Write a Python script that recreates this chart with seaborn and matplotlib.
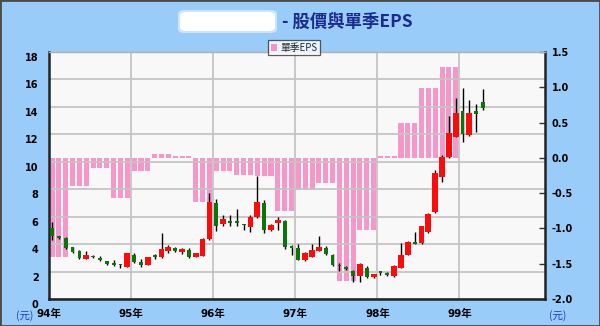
import numpy as np
import pandas as pd
import matplotlib
matplotlib.use("Agg")
import matplotlib.pyplot as plt
import seaborn as sns
from matplotlib.patches import Rectangle, FancyBboxPatch, Patch
from matplotlib.transforms import ScaledTranslation

# ---------------- data ----------------
year_labels = ["94年", "95年", "96年", "97年", "98年", "99年"]
title_text = "- 股價與單季EPS"
legend_label = "單季EPS"

# quarterly EPS, 94Q1 .. 98Q4 (each quarter drawn as three monthly bars)
quarter_eps = [-1.40, -0.40, -0.15, -0.57,
               -0.18, 0.05, 0.03, -0.62,
               -0.19, -0.24, -0.26, -0.75,
               -0.46, -0.35, -1.75, -1.02,
               0.02, 0.49, 0.99, 1.29]

# monthly candles, 94/01 .. 99/04
opens = [5.20, 4.55, 4.47, 3.77, 3.50, 2.94, 3.12, 3.01, 2.77, 2.60, 2.55, 2.35,
         3.21, 2.72, 2.48, 3.21, 3.04, 3.52, 3.74, 3.45, 3.57, 3.08, 3.13, 4.35,
         7.02, 5.47, 5.62, 5.60, 5.42, 5.27, 5.95, 6.97, 5.03, 5.56, 5.71, 3.76,
         3.70, 2.84, 3.08, 3.50, 3.74, 3.21, 2.42, 2.26, 2.06, 1.68, 2.24, 1.58,
         1.94, 1.92, 1.68, 2.28, 3.21, 4.08, 4.06, 4.90, 6.36, 8.92, 10.37, 11.83,
         13.72, 11.95, 13.72, 14.38]
highs = [5.63, 4.61, 4.50, 3.81, 3.57, 3.50, 3.20, 3.10, 2.80, 2.82, 2.55, 3.35,
         3.33, 2.89, 3.06, 3.26, 4.79, 3.94, 3.80, 3.75, 3.69, 3.36, 4.42, 7.70,
         7.27, 6.12, 6.12, 6.54, 5.50, 6.12, 8.97, 7.20, 5.45, 5.95, 5.76, 3.94,
         4.00, 3.40, 4.00, 4.59, 3.85, 3.25, 2.60, 2.40, 2.10, 2.60, 2.40, 1.85,
         2.00, 1.95, 2.45, 4.10, 4.20, 4.90, 5.35, 6.25, 9.40, 10.50, 13.34, 14.63,
         15.36, 14.50, 14.21, 15.28]
lows = [4.30, 4.37, 3.64, 3.33, 2.89, 2.92, 2.96, 2.78, 2.50, 2.40, 2.24, 2.33,
        2.60, 2.33, 2.46, 2.94, 3.00, 3.33, 3.45, 3.28, 2.96, 3.05, 3.10, 4.30,
        4.98, 5.32, 5.32, 5.32, 5.03, 4.85, 5.90, 4.80, 4.95, 5.03, 3.62, 3.21,
        2.82, 2.80, 3.05, 3.48, 3.20, 2.40, 2.06, 2.10, 1.26, 1.26, 1.50, 1.50,
        1.75, 1.70, 1.60, 2.25, 3.18, 4.00, 4.00, 4.84, 6.24, 8.55, 10.25, 11.79,
        11.47, 11.90, 12.20, 13.78]
closes = [4.61, 4.45, 3.74, 3.45, 2.96, 3.21, 3.05, 2.82, 2.53, 2.48, 2.45, 3.33,
          2.72, 2.48, 3.04, 3.05, 3.62, 3.77, 3.50, 3.64, 3.08, 3.33, 4.37, 7.09,
          5.32, 5.81, 5.57, 5.55, 5.37, 6.00, 7.05, 5.03, 5.39, 5.76, 3.77, 3.72,
          2.84, 3.38, 3.57, 3.77, 3.26, 2.48, 2.38, 2.22, 1.68, 2.55, 1.63, 1.82,
          1.90, 1.75, 2.40, 3.21, 4.18, 4.04, 5.32, 6.20, 9.16, 10.33, 12.08, 13.58,
          12.03, 13.58, 13.48, 13.90]

price_ticks = [0, 2, 4, 6, 8, 10, 12, 14, 16, 18]
eps_ticks = [-2.0, -1.5, -1.0, -0.5, 0.0, 0.5, 1.0, 1.5]

# ---------------- style ----------------
sns.set_theme(style="white")
plt.rcParams["font.family"] = ["DejaVu Sans", "Noto Sans CJK TC"]
CJK = ["Noto Sans CJK TC", "DejaVu Sans"]

BG = "#99CCF8"
PINK = "#F592C6"
RED = "#FF0A0A"
GREEN = "#0A760A"
GRID = "#C4C4C4"

W, H = 600, 326
fig = plt.figure(figsize=(6.0, 3.26), dpi=100, facecolor=BG)
rect = [49 / W, 27 / H, 496 / W, 247 / H]
ax = fig.add_axes(rect)
ax2 = ax.twinx()

# ---- EPS bars (right axis) ----
n_months = len(opens)
month_pos = np.arange(n_months) + 0.45
eps_monthly = np.repeat(quarter_eps, 3)
df_eps = pd.DataFrame({"pos": month_pos[:len(eps_monthly)], "eps": eps_monthly})
sns.barplot(data=df_eps, x="pos", y="eps", native_scale=True, ax=ax2,
            color=PINK, saturation=1, width=0.74, errorbar=None,
            linewidth=0, alpha=0.95)
ax2.set_ylim(-2.0, 1.5)
ax2.set_yticks(eps_ticks)
ax2.set_yticklabels([f"{v:.1f}" for v in eps_ticks])
ax2.set_xlabel("")
ax2.set_ylabel("")
ax2.patch.set_visible(True)
ax2.set_facecolor("#F8F8F8")
for s in ax2.spines.values():
    s.set_visible(False)
ax2.tick_params(axis="y", right=True, direction="in", length=4, width=1,
                color="#333333", pad=5, labelsize=7, labelcolor="black")
for lbl in ax2.get_yticklabels():
    lbl.set_fontweight("bold")

# ---- candles (left axis, on top) ----
ax.set_zorder(ax2.get_zorder() + 1)
ax.patch.set_visible(False)
df_c = pd.DataFrame({"pos": month_pos, "open": opens, "high": highs,
                     "low": lows, "close": closes})
up = df_c["close"] >= df_c["open"]
ax.vlines(df_c["pos"], df_c["low"], df_c["high"], color="black", lw=1.0, zorder=3)
for mask, col, wd in [(up, RED, 0.85), (~up, GREEN, 0.55)]:
    d = df_c[mask]
    bottoms = np.minimum(d["open"], d["close"])
    heights = np.maximum(np.abs(d["close"] - d["open"]), 0.12)
    ax.bar(d["pos"], heights, bottom=bottoms, width=wd, color=col,
           linewidth=0, zorder=4)

ax.set_xlim(0, 72.5)
ax2.set_xlim(0, 72.5)
ax.set_ylim(0, 18)
ax.set_yticks(price_ticks)
ax.set_yticklabels([str(v) for v in price_ticks])
ax.set_xticks([0, 12, 24, 36, 48, 60])
ax.set_xticklabels(year_labels)
ax.grid(True, color=GRID, lw=1.3, zorder=0)
ax.set_axisbelow(True)
ax.tick_params(axis="y", left=True, length=0, pad=7.5, labelsize=7,
               labelcolor="black")
ax.tick_params(axis="x", bottom=False, length=0, pad=7, labelsize=7.5,
               labelcolor="black")
for lbl in ax.get_yticklabels():
    lbl.set_fontweight("bold")
    lbl.set_transform(lbl.get_transform() +
                      ScaledTranslation(0, -5 / 100, fig.dpi_scale_trans))
for lbl in ax.get_xticklabels():
    lbl.set_fontweight("bold")
    lbl.set_family(["DejaVu Sans", "Noto Sans CJK TC"])
for side in ["left", "bottom", "right"]:
    ax.spines[side].set_color("#222222")
    ax.spines[side].set_linewidth(1.8)
    ax.spines[side].set_visible(True)
ax.spines["top"].set_color("#B0B0B0")
ax.spines["top"].set_linewidth(1.0)
ax.spines["top"].set_visible(True)

# ---- unit labels ----
fig.text(25 / W, 1 - 316 / H, "(元)", ha="center", va="center", fontsize=7.5,
         color="#1E3CC8", family=CJK)
fig.text(558 / W, 1 - 316 / H, "(元)", ha="center", va="center", fontsize=7.5,
         color="#1E3CC8", family=CJK)

# ---- title (name part blanked in reference) ----
for grow, a in [(2, 0.5), (0, 1.0)]:
    fig.patches.append(FancyBboxPatch(
        ((180 - grow) / W, 1 - (31 + grow) / H), (95 + 2 * grow) / W, (19 + 2 * grow) / H,
        boxstyle="round,pad=0.0,rounding_size=0.012", transform=fig.transFigure,
        facecolor="white", edgecolor="none", alpha=a, zorder=5))
fig.text(282 / W, 1 - 22 / H, title_text, ha="left", va="center", fontsize=12.5,
         color="#1B2A8E", family=CJK, fontweight="bold")

# ---- legend ----
leg = fig.legend(handles=[Patch(facecolor=PINK, edgecolor="none", label=legend_label)],
                 loc="center", bbox_to_anchor=(294 / W, 1 - 47.5 / H),
                 frameon=True, fancybox=False, handlelength=0.7,
                 handleheight=0.7, handletextpad=0.3, borderpad=0.3,
                 borderaxespad=0, prop={"family": CJK, "size": 7})
leg.get_frame().set_edgecolor("#333333")
leg.get_frame().set_linewidth(0.9)
leg.get_frame().set_facecolor("white")

# ---- figure border ----
fig.patches.append(Rectangle((0, 0), 1, 1, transform=fig.transFigure, fill=False,
                             edgecolor="#4A4A4A", lw=2.0, zorder=10))

fig.savefig("out.png", dpi=100, facecolor=BG)
